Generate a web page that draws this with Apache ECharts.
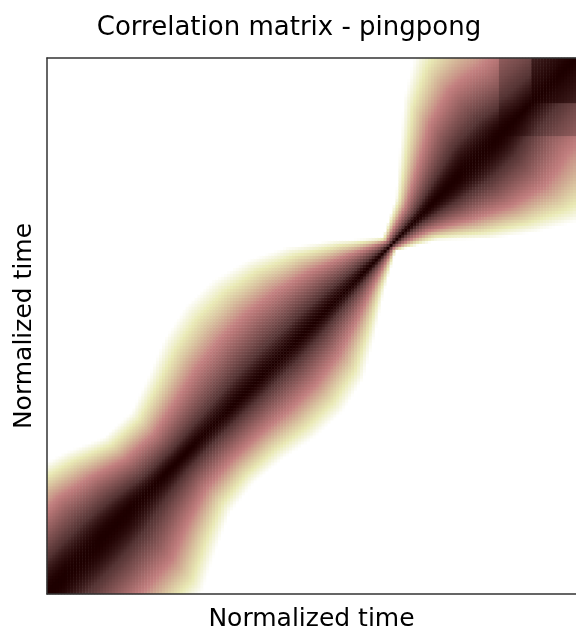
<!DOCTYPE html>
<html>
<head>
<meta charset="utf-8">
<script src="https://cdn.jsdelivr.net/npm/echarts@6/dist/echarts.min.js"></script>
<style>
html,body{margin:0;padding:0;background:#fff;overflow:hidden;}
#chart{width:576px;height:637px;}
</style>
</head>
<body>
<div id="chart"></div>
<script>
// ---- data ----
const titleText = 'Correlation matrix - pingpong';
const xAxisTitle = 'Normalized time';
const yAxisTitle = 'Normalized time';
const gridSize = 179; // cells per side of the matrix
// positions along the diagonal (normalized time)
const diagPos = [0,0.05,0.1,0.15,0.2,0.25,0.3,0.35,0.4,0.45,0.5,0.55,0.6,0.65,0.7,0.75,0.8,0.85,0.9,0.95,1];
// lag at which correlation falls to zero, above the diagonal (upper-left side)
const bandUpper = [0.26,0.26,0.26,0.23,0.185,0.18,0.215,0.255,0.275,0.272,0.245,0.195,0.12,0.03,0.08,0.165,0.25,0.31,0.35,0.36,0.36];
// lag at which correlation falls to zero, below the diagonal (lower-right side)
const bandLower = [0.29,0.29,0.29,0.29,0.24,0.195,0.185,0.195,0.215,0.22,0.198,0.14,0.075,0.02,0.08,0.175,0.25,0.31,0.35,0.36,0.36];
// flatness of the correlation profile near the diagonal
const coreShape = [2.0,2.0,2.0,1.9,1.7,1.6,1.6,1.6,1.6,1.6,1.6,1.6,1.6,1.6,1.7,1.9,2.0,1.8,1.3,1.2,1.2];
// segment starts (normalized time): correlation inside the last segments is raised
const segmentStarts = [0.857, 0.918];
const segmentBoost = [0.62, 0.35]; // remaining share of decorrelation inside the segment

function interp(arr, s) {
  if (s <= diagPos[0]) return arr[0];
  for (let k = 1; k < diagPos.length; k++) {
    if (s <= diagPos[k]) {
      const t = (s - diagPos[k-1]) / (diagPos[k] - diagPos[k-1]);
      return arr[k-1] + t * (arr[k] - arr[k-1]);
    }
  }
  return arr[arr.length-1];
}

const cats = [];
for (let i = 0; i < gridSize; i++) cats.push(i);
const matrix = [];
for (let i = 0; i < gridSize; i++) {
  for (let j = 0; j < gridSize; j++) {
    const u = (i + 0.5) / gridSize, v = (j + 0.5) / gridSize;
    const s = (u + v) / 2, d = Math.abs(v - u);
    const w = interp(v >= u ? bandUpper : bandLower, s), q = interp(coreShape, s);
    const r = d / w;
    let loss = r >= 1 ? 1 : Math.pow(r, q);
    for (let k = 0; k < segmentStarts.length; k++) {
      const e = segmentStarts[k];
      if (u >= e && v >= e) loss *= segmentBoost[k];
    }
    matrix.push([i, j, Math.round((1 - loss) * 1000) / 1000]);
  }
}

const pinkRev = ['#ffffff','#fafaef','#f4f4dd','#efefca','#e9e9b4','#e3dbad','#ddcda5','#d7bd9c','#d0ab93','#ca988a','#c38080','#b47474','#a16868','#8c5a5a','#744a4a','#553434','#1e0000'];
const font = 'DejaVu Sans';
const frame = {show: true, onZero: false, lineStyle: {color: '#333', width: 1.5}};

const chart = echarts.init(document.getElementById('chart'), null, {renderer: 'canvas'});
chart.setOption({
  animation: false,
  backgroundColor: '#fff',
  title: {
    text: titleText, left: 284, top: 10, textAlign: 'center',
    textStyle: {fontFamily: font, fontSize: 26, fontWeight: 'normal', color: '#000'}
  },
  grid: {left: 47, top: 58, width: 537, height: 537, containLabel: false},
  xAxis: [
    {type: 'category', data: cats, position: 'bottom', z: 10,
     name: xAxisTitle, nameLocation: 'middle', nameGap: 13,
     nameTextStyle: {fontFamily: font, fontSize: 25, color: '#000'},
     axisLine: frame, axisTick: {show: false}, axisLabel: {show: false}, splitLine: {show: false}},
    {type: 'category', data: cats, position: 'top', z: 10,
     axisLine: frame, axisTick: {show: false}, axisLabel: {show: false}, splitLine: {show: false}}
  ],
  yAxis: [
    {type: 'category', data: cats, position: 'left', z: 10,
     name: yAxisTitle, nameLocation: 'middle', nameGap: 10, nameRotate: 90,
     nameTextStyle: {fontFamily: font, fontSize: 25, color: '#000'},
     axisLine: frame, axisTick: {show: false}, axisLabel: {show: false}, splitLine: {show: false}}
  ],
  visualMap: {show: false, type: 'continuous', min: 0, max: 1, dimension: 2, seriesIndex: 0,
    inRange: {color: pinkRev}},
  series: [{
    type: 'heatmap', data: matrix, xAxisIndex: 0, yAxisIndex: 0,
    progressive: 0, itemStyle: {borderWidth: 0}, emphasis: {disabled: true}
  }]
});
</script>
</body>
</html>
